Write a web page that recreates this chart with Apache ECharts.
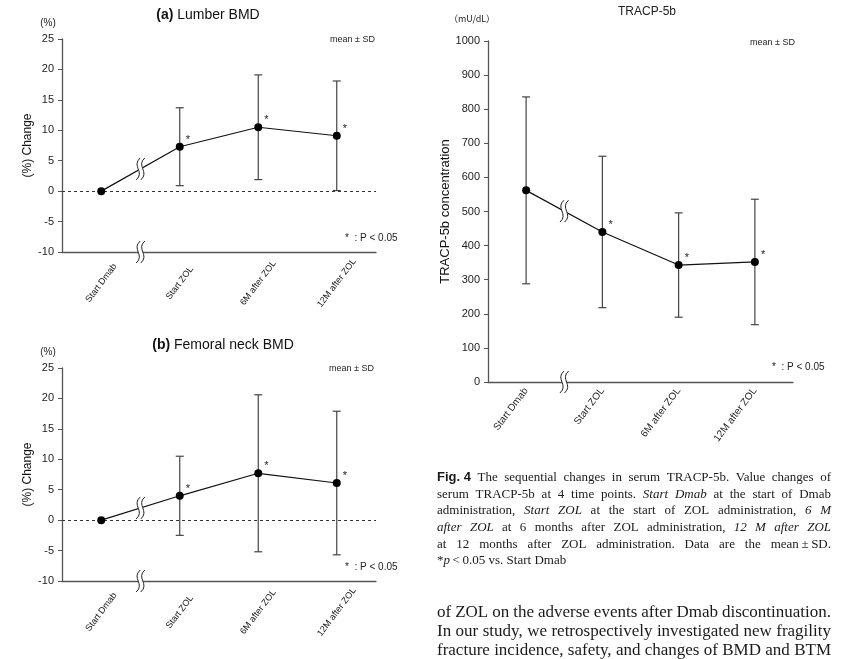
<!DOCTYPE html>
<html>
<head>
<meta charset="utf-8">
<script src="https://cdn.jsdelivr.net/npm/echarts@6/dist/echarts.min.js"></script>
<style>
html,body{margin:0;padding:0;background:#fff;}
#main{width:850px;height:659px;}
</style>
</head>
<body>
<div id="main"></div>
<script>
// ---------------- data ----------------
const categories = ['Start Dmab', 'Start ZOL', '6M after ZOL', '12M after ZOL'];
const lumbarMean = [0, 7.3, 10.5, 9.1];
const lumbarSD = [0, 6.4, 8.6, 9.0];
const femoralMean = [0, 4.0, 7.7, 6.1];
const femoralSD = [0, 6.5, 12.9, 11.8];
const tracpMean = [562, 440, 343, 352];
const tracpSD = [274, 222, 153, 184];
const significant = [false, true, true, true];
const bmdAxis = { min: -10, max: 25, interval: 5 };
const tracpAxis = { min: 0, max: 1000, interval: 100 };

const captionLines = [
  [['Fig. 4', 'b'], ['The sequential changes in serum TRACP-5b. Value changes of', 'n']],
  [['serum TRACP-5b at 4 time points.', 'n'], ['Start Dmab', 'i'], ['at the start of Dmab', 'n']],
  [['administration,', 'n'], ['Start ZOL', 'i'], ['at the start of ZOL administration,', 'n'], ['6 M', 'i']],
  [['after ZOL', 'i'], ['at 6 months after ZOL administration,', 'n'], ['12 M after ZOL', 'i']],
  [['at 12 months after ZOL administration. Data are the', 'n'], ['mean\u2009±\u2009SD.', 'k']]
];
const captionLast = '*{i|p}\u2009<\u20090.05 vs. Start Dmab';
const bodyLines = [
  'of ZOL on the adverse events after Dmab discontinuation.',
  'In our study, we retrospectively investigated new fragility',
  'fracture incidence, safety, and changes of BMD and BTM'
];

// ---------------- helpers ----------------
const chart = echarts.init(document.getElementById('main'), null, { renderer: 'canvas' });
const AX = '#555';
const TXT = '#222';

function errData(mean, sd) {
  const out = [];
  mean.forEach((m, i) => { if (sd[i] > 0) out.push([i, m - sd[i], m + sd[i]]); });
  return out;
}
function renderErr(params, api) {
  const x = api.value(0);
  const lo = api.coord([x, api.value(1)]);
  const hi = api.coord([x, api.value(2)]);
  const w = 4;
  const style = { stroke: '#444', lineWidth: 1.2 };
  return {
    type: 'group', children: [
      { type: 'line', shape: { x1: lo[0], y1: lo[1], x2: hi[0], y2: hi[1] }, style },
      { type: 'line', shape: { x1: lo[0] - w, y1: lo[1], x2: lo[0] + w, y2: lo[1] }, style },
      { type: 'line', shape: { x1: hi[0] - w, y1: hi[1], x2: hi[0] + w, y2: hi[1] }, style }
    ]
  };
}
function squiggle(cx, cy) {
  const h = 11;
  const p = (dx) => `M${cx + 2 + dx} ${cy - h} C${cx - 7 + dx} ${cy - 3} ${cx + 7 + dx} ${cy + 3} ${cx - 2 + dx} ${cy + h}`;
  return [
    { type: 'path', shape: { pathData: p(0) }, style: { fill: 'none', stroke: '#fff', lineWidth: 5 } },
    { type: 'path', shape: { pathData: p(-2.3) }, style: { fill: 'none', stroke: '#222', lineWidth: 1 } },
    { type: 'path', shape: { pathData: p(2.3) }, style: { fill: 'none', stroke: '#222', lineWidth: 1 } }
  ];
}
function renderBreak(params, api) {
  const p0 = api.coord([0, api.value(1)]);
  const p1 = api.coord([1, api.value(2)]);
  const cx = (p0[0] + p1[0]) / 2, cy = (p0[1] + p1[1]) / 2;
  const cs = params.coordSys;
  const ay = cs.y + cs.height;
  return { type: 'group', children: squiggle(cx, cy).concat(squiggle(cx, ay)) };
}
function lineData(mean) {
  return mean.map((v, i) => ({
    value: v,
    label: { show: significant[i], formatter: '*' }
  }));
}
function seriesFor(idx, mean, sd, withZero) {
  const line = {
    type: 'line', xAxisIndex: idx, yAxisIndex: idx,
    data: lineData(mean),
    symbol: 'circle', symbolSize: 8,
    itemStyle: { color: '#000' },
    lineStyle: { color: '#111', width: 1.2 },
    label: { position: 'right', distance: 2, offset: [0, -7], fontSize: 11, color: TXT, fontFamily: 'Liberation Sans' },
    z: 5
  };
  if (withZero) {
    line.markLine = {
      silent: true, symbol: ['none', 'none'],
      label: { show: false },
      lineStyle: { type: [3, 3], color: '#333', width: 1 },
      data: [{ yAxis: 0 }]
    };
  }
  return [
    {
      type: 'custom', xAxisIndex: idx, yAxisIndex: idx, renderItem: renderErr,
      data: errData(mean, sd), encode: { x: 0, y: [1, 2] }, z: 3
    },
    line,
    {
      type: 'custom', xAxisIndex: idx, yAxisIndex: idx, renderItem: renderBreak,
      data: [[0, mean[0], mean[1]]], encode: { x: 0, y: [1, 2] }, z: 10, silent: true
    }
  ];
}
function xAxisFor(idx, fontSize, centered) {
  const lbl = { fontSize, color: TXT, fontFamily: 'Liberation Sans', rotate: 53, interval: 0 };
  if (centered) { Object.assign(lbl, { align: 'center', verticalAlign: 'middle', margin: 31 }); }
  else { Object.assign(lbl, { margin: 7 }); }
  return {
    type: 'category', gridIndex: idx, data: categories, boundaryGap: true,
    axisLine: { onZero: false, lineStyle: { color: AX, width: 1.3 } },
    axisTick: { alignWithLabel: true, length: 4, lineStyle: { color: AX } },
    axisLabel: lbl, splitLine: { show: false }
  };
}
function yAxisFor(idx, cfg, name, gap, nameSize) {
  return {
    type: 'value', gridIndex: idx, min: cfg.min, max: cfg.max, interval: cfg.interval,
    axisLine: { show: true, lineStyle: { color: AX, width: 1.3 } },
    axisTick: { show: true, length: 4, lineStyle: { color: AX } },
    axisLabel: { fontSize: 11, color: TXT, margin: 8, fontFamily: 'Liberation Sans', formatter: (v) => String(v) },
    splitLine: { show: false },
    name, nameLocation: 'middle', nameRotate: 90, nameGap: gap,
    nameTextStyle: { fontSize: nameSize, color: '#111', fontFamily: 'Liberation Sans' }
  };
}

// ---------------- caption / text layout ----------------
const ctx = document.createElement('canvas').getContext('2d');
function fontOf(style, size) {
  if (style === 'b') return { fontWeight: 'bold', fontStyle: 'normal', fontFamily: 'Liberation Sans', fontSize: size };
  if (style === 'i') return { fontWeight: 'normal', fontStyle: 'italic', fontFamily: 'Liberation Serif', fontSize: size };
  return { fontWeight: 'normal', fontStyle: 'normal', fontFamily: 'Liberation Serif', fontSize: size };
}
function cssFont(f) { return `${f.fontStyle} ${f.fontWeight} ${f.fontSize}px "${f.fontFamily}"`; }
function justify(segs, x0, x1, y, size) {
  const words = [];
  segs.forEach(([t, s]) => {
    if (s === 'b' || s === 'k') words.push([t, s]);
    else t.split(' ').forEach(w => words.push([w, s]));
  });
  let total = 0;
  const widths = words.map(([w, s]) => { ctx.font = cssFont(fontOf(s, size)); const m = ctx.measureText(w).width; total += m; return m; });
  const gap = (x1 - x0 - total) / (words.length - 1);
  let x = x0;
  return words.map(([w, s], i) => {
    const el = { type: 'text', x, y, silent: true, style: Object.assign({ text: w, fill: '#1a1a1a', align: 'left', verticalAlign: 'middle' }, fontOf(s, size)) };
    x += widths[i] + gap;
    return el;
  });
}

const graphics = [];
const capY = [477.5, 494.2, 510.9, 527.6, 544.2, 560.8];
captionLines.forEach((l, i) => graphics.push(...justify(l, 437, 831, capY[i], 13)));
graphics.push({ type: 'text', x: 437, y: capY[5], silent: true, style: {
  text: captionLast, fill: '#1a1a1a', fontFamily: 'Liberation Serif', fontSize: 13, verticalAlign: 'middle',
  rich: { i: { fontStyle: 'italic', fontFamily: 'Liberation Serif', fontSize: 13, fill: '#1a1a1a' } } } });
const bodyY = [613, 632, 651];
bodyLines.forEach((t, i) => graphics.push(...justify([[t, 'n']], 437, 831, bodyY[i], 17)));

function txt(text, x, y, size, extra) {
  return { type: 'text', x, y, silent: true, style: Object.assign({ text, fill: TXT, fontSize: size, fontFamily: 'Liberation Sans', verticalAlign: 'middle', align: 'left' }, extra || {}) };
}
const titleRich = { b: { fontWeight: 'bold', fontSize: 14, fontFamily: 'Liberation Sans', fill: '#111' } };
graphics.push(txt('{b|(a)} Lumber BMD', 208, 15, 14, { align: 'center', rich: titleRich, fill: '#111' }));
graphics.push(txt('{b|(b)} Femoral neck BMD', 223, 345, 14, { align: 'center', rich: titleRich, fill: '#111' }));
graphics.push(txt('TRACP-5b', 647, 12, 12, { align: 'center' }));
graphics.push(txt('（mU/dL）', 472, 19, 9, { align: 'center', fontFamily: 'Noto Sans CJK JP' }));
graphics.push(txt('(%)', 48, 23, 10, { align: 'center' }));
graphics.push(txt('(%)', 48, 352, 10, { align: 'center' }));
graphics.push(txt('mean ± SD', 330, 40, 9));
graphics.push(txt('mean ± SD', 329, 369, 9));
graphics.push(txt('mean ± SD', 750, 43, 9));
graphics.push(txt('*  : P < 0.05', 345, 238, 10));
graphics.push(txt('*  : P < 0.05', 345, 567, 10));
graphics.push(txt('*  : P < 0.05', 772, 367, 10));

// ---------------- option ----------------
const option = {
  animation: false,
  backgroundColor: '#fff',
  grid: [
    { left: 62, top: 39, width: 314, height: 213, containLabel: false, outerBoundsMode: 'none' },
    { left: 62, top: 368, width: 314, height: 213, containLabel: false, outerBoundsMode: 'none' },
    { left: 488, top: 41, width: 305, height: 341, containLabel: false, outerBoundsMode: 'none' }
  ],
  xAxis: [xAxisFor(0, 9, true), xAxisFor(1, 9, true), xAxisFor(2, 10, false)],
  yAxis: [
    yAxisFor(0, bmdAxis, '(%) Change', 28, 12),
    yAxisFor(1, bmdAxis, '(%) Change', 28, 12),
    yAxisFor(2, tracpAxis, 'TRACP-5b concentration', 33, 13)
  ],
  series: [].concat(
    seriesFor(0, lumbarMean, lumbarSD, true),
    seriesFor(1, femoralMean, femoralSD, true),
    seriesFor(2, tracpMean, tracpSD, false)
  ),
  graphic: graphics
};
chart.setOption(option);
</script>
</body>
</html>
